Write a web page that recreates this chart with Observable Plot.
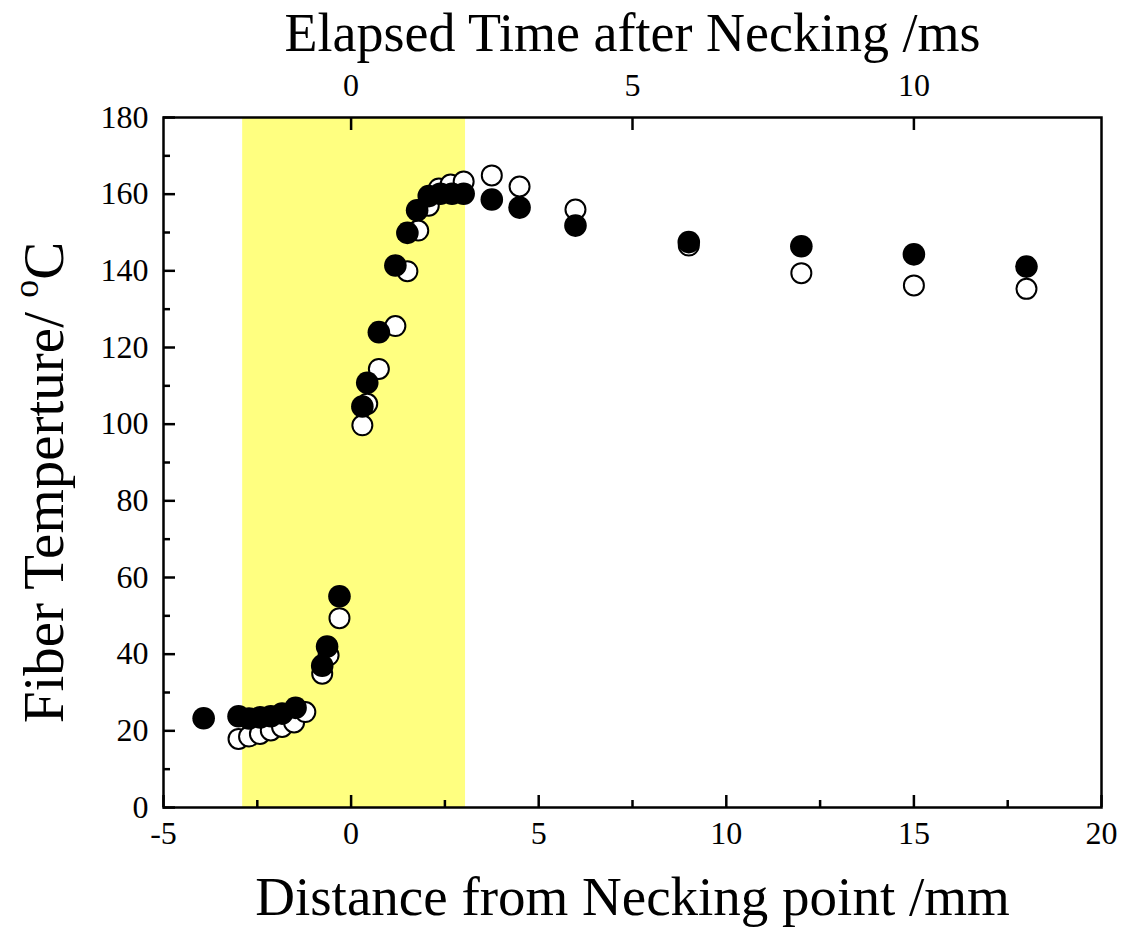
<!DOCTYPE html>
<html>
<head>
<meta charset="utf-8">
<script src="https://cdn.jsdelivr.net/npm/d3@7"></script>
<script src="https://cdn.jsdelivr.net/npm/@observablehq/plot@0.6"></script>
<style>
  html, body { margin: 0; padding: 0; background: #fff; }
  #chart svg { display: block; }
</style>
</head>
<body>
<div id="chart"></div>
<script>
// Open circles series
const openDistance = [-3.0, -2.72, -2.43, -2.14, -1.84, -1.52, -1.22, -0.77, -0.6, -0.31, 0.30, 0.43, 0.74, 1.18, 1.5, 1.79, 2.07, 2.34, 2.65, 3.0, 3.75, 4.49, 5.98, 9.0, 12.0, 15.0, 18.0];
const openTemp     = [17.9, 18.5, 19.2, 20.1, 21.0, 22.2, 24.9, 34.9, 39.7, 49.4, 99.7, 105.3, 114.4, 125.6, 139.9, 150.5, 157.0, 161.5, 162.5, 163.3, 164.9, 162.0, 156.0, 146.6, 139.4, 136.2, 135.3];
// Filled circles series
const filledDistance = [-3.93, -3.0, -2.72, -2.43, -2.14, -1.84, -1.48, -0.77, -0.64, -0.31, 0.30, 0.43, 0.74, 1.18, 1.5, 1.76, 2.07, 2.38, 2.69, 3.0, 3.75, 4.49, 5.98, 9.0, 12.0, 15.0, 18.0];
const filledTemp     = [23.3, 23.8, 23.2, 23.5, 23.8, 24.5, 26.0, 37.0, 42.0, 55.1, 104.6, 110.8, 124.0, 141.4, 149.9, 155.8, 159.5, 160.1, 160.1, 160.1, 158.6, 156.5, 151.8, 147.5, 146.4, 144.3, 141.1];
// Highlighted necking zone (mm)
const bandStart = [-2.89];
const bandEnd = [3.05];
// Axis ticks
const xMajorTicks = [-5, 0, 5, 10, 15, 20];
const xMinorTicks = [-2.5, 2.5, 7.5, 12.5, 17.5];
const yMajorTicks = [0, 20, 40, 60, 80, 100, 120, 140, 160, 180];
const yMinorTicks = [10, 30, 50, 70, 90, 110, 130, 150, 170];
const timeTicksMs = [0, 5, 10];
const mmPerMs = 1.5;
// Titles
const xTitle = ["Distance from Necking point /mm"];
const topTitle = ["Elapsed Time after Necking /ms"];
const yTitle = ["Fiber Temperture/ °C"];

const openData = openDistance.map((d, i) => ({x: d, y: openTemp[i]}));
const filledData = filledDistance.map((d, i) => ({x: d, y: filledTemp[i]}));
const band = bandStart.map((s, i) => ({x1: s, x2: bandEnd[i]}));

const chart = Plot.plot({
  width: 1126,
  height: 931,
  marginLeft: 163,
  marginRight: 25,
  marginTop: 117,
  marginBottom: 124,
  style: {fontFamily: "'Liberation Serif', 'Times New Roman', serif", fontSize: "32px", color: "#000", background: "#fff", overflow: "visible"},
  x: {domain: [-5, 20]},
  y: {domain: [0, 180]},
  marks: [
    Plot.rect(band, {x1: "x1", x2: "x2", y1: 0, y2: 180, fill: "#ffff80"}),
    Plot.dot(openData, {x: "x", y: "y", r: 10, fill: "#fff", stroke: "#000", strokeWidth: 2}),
    Plot.dot(filledData, {x: "x", y: "y", r: 11.3, fill: "#000"}),
    Plot.frame({stroke: "#000", strokeWidth: 2.5}),
    // bottom axis
    Plot.axisX({anchor: "bottom", ticks: xMajorTicks, tickSize: -12, tickPadding: 26, strokeWidth: 2.5, label: null, fontSize: 32, tickFormat: d => String(d)}),
    Plot.axisX({anchor: "bottom", ticks: xMinorTicks, tickSize: -7, text: null, strokeWidth: 2.5, label: null}),
    // left axis
    Plot.axisY({anchor: "left", ticks: yMajorTicks, tickSize: -12, tickPadding: 27, strokeWidth: 2.5, label: null, fontSize: 32}),
    Plot.axisY({anchor: "left", ticks: yMinorTicks, tickSize: -7, text: null, strokeWidth: 2.5, label: null}),
    // top axis (time)
    Plot.axisX({anchor: "top", ticks: timeTicksMs.map(t => t * mmPerMs), tickSize: -12, tickPadding: 34, strokeWidth: 2.5, label: null, fontSize: 32, tickFormat: d => String(d / mmPerMs)}),
    // titles
    Plot.text(xTitle, {frameAnchor: "bottom", dy: 107, lineAnchor: "bottom", textAnchor: "middle", fontSize: 55, fill: "#000"}),
    Plot.text(topTitle, {frameAnchor: "top", dy: -67, lineAnchor: "bottom", textAnchor: "middle", fontSize: 54, fill: "#000"}),
    Plot.text(yTitle, {frameAnchor: "left", dx: -101, dy: 20, rotate: -90, lineAnchor: "bottom", textAnchor: "middle", fontSize: 57, fill: "#000", className: "ytitle"})
  ]
});

// superscript "o" in the y title
d3.select(chart).selectAll(".ytitle text").each(function() {
  const t = d3.select(this);
  t.text(null);
  t.append("tspan").text("Fiber Temperture/ ");
  t.append("tspan").attr("font-size", "36px").attr("dy", "-25").text("o");
  t.append("tspan").attr("dy", "25").text("C");
});

document.getElementById("chart").appendChild(chart);
</script>
</body>
</html>
